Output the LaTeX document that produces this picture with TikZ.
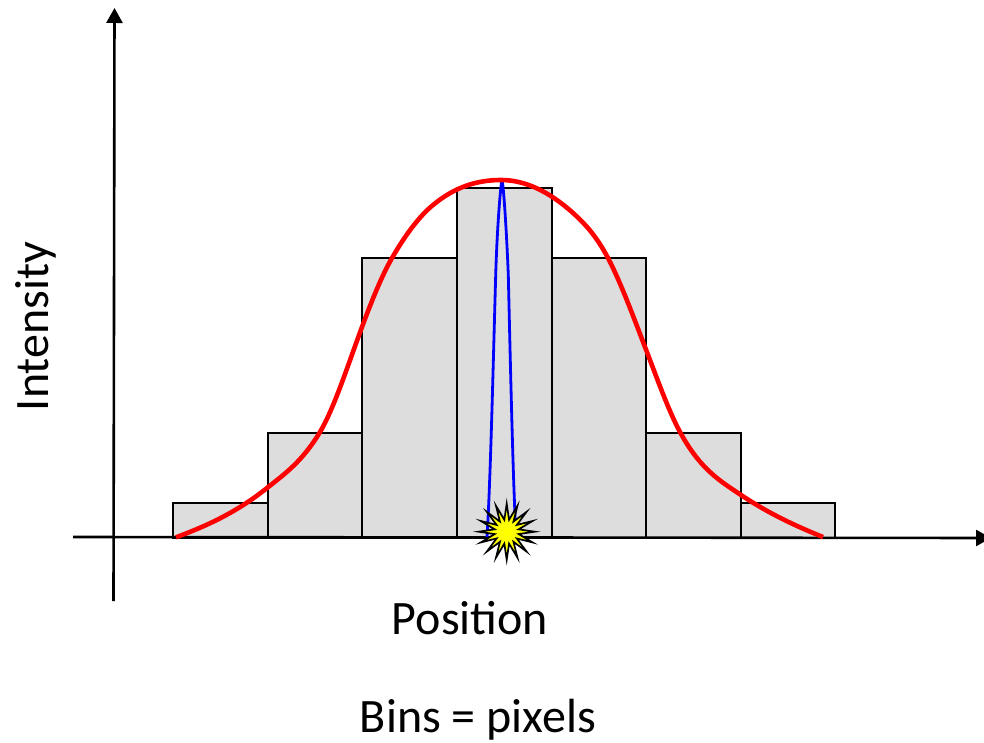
\documentclass[tikz,border=0pt]{standalone}
\usepackage{fontspec}
\setmainfont{Carlito}
\usetikzlibrary{arrows.meta,shapes.geometric,shapes.misc}
\definecolor{barfill}{HTML}{DDDDDD}
\definecolor{burst}{HTML}{FFFF00}
\tikzset{
  axisline/.style={black,line width=2.6pt,-{Triangle[length=15pt,width=16pt]}},
  binbox/.style={draw=black,fill=barfill,line width=2pt,inner sep=0pt,outer sep=0pt,anchor=south west},
  lbl/.style={font=\fontsize{48}{52}\selectfont,inner sep=0pt,text=black},
}
\begin{document}
\begin{tikzpicture}[x=1pt,y=-1pt]
\useasboundingbox (0,0) rectangle (984,743);
\coordinate (xs) at (73,537);
\coordinate (xe) at (991,538);
\coordinate (ys) at (113.5,601);
\coordinate (ye) at (114.5,8);
\foreach \n/\l/\r/\t in {a/172.5/267.5/503,b/267.5/362/432.5,c/362/457/258,d/457/551.5/188,e/551.5/646/258,f/646/741/432.5,g/741/835/503}{
  \node[binbox,minimum width={(\r-\l)*1pt},minimum height={(537.5-\t)*1pt}] (\n) at (\l,537.5) {};
}
\draw[axisline] (xs) -- (xe);
\draw[axisline] (ys) -- (ye);
\draw[blue,line width=2.8pt,line join=round] (487,537)
  .. controls (490.5,480) and (493,370) .. (495.7,275)
  .. controls (497,230) and (500.5,185) .. (502,180)
  .. controls (503.5,185) and (506.5,230) .. (508.3,275)
  .. controls (510.5,370) and (513,480) .. (516,537);
\draw[red,line width=4.6pt] (176,537.3)
  .. controls (206.3,526.1) and (236.7,512.3) .. (267,488)
  .. controls (284.7,473.9) and (302.3,461.5) .. (320,432)
  .. controls (334,408.6) and (348,364.8) .. (362,327)
  .. controls (372,300) and (382,275.3) .. (392,258)
  .. controls (405.7,234.4) and (419.3,216.3) .. (433,205)
  .. controls (455.7,186.2) and (478.3,180) .. (501,180)
  .. controls (525,180) and (549,191.4) .. (573,213)
  .. controls (584.7,223.5) and (596.3,235.8) .. (608,258)
  .. controls (620.3,281.4) and (632.7,315) .. (645,347)
  .. controls (656.7,377.3) and (668.3,410.4) .. (680,432)
  .. controls (700.3,469.6) and (720.7,481.4) .. (741,495)
  .. controls (768.3,513.3) and (795.7,526.1) .. (823,537);
\node[star,star points=16,star point ratio=2.3,minimum size=56pt,inner sep=0pt,draw=black,fill=burst,line width=1.7pt,miter limit=10] (flash) at (506.7,531.7) {};
\node[lbl] (pos) at (470,618) {Position};
\node[lbl] (bins) at (478,720) {Bins = pixels};
\node[lbl,rotate=90] (int) at (36,326.5) {Intensity};
\end{tikzpicture}
\end{document}
